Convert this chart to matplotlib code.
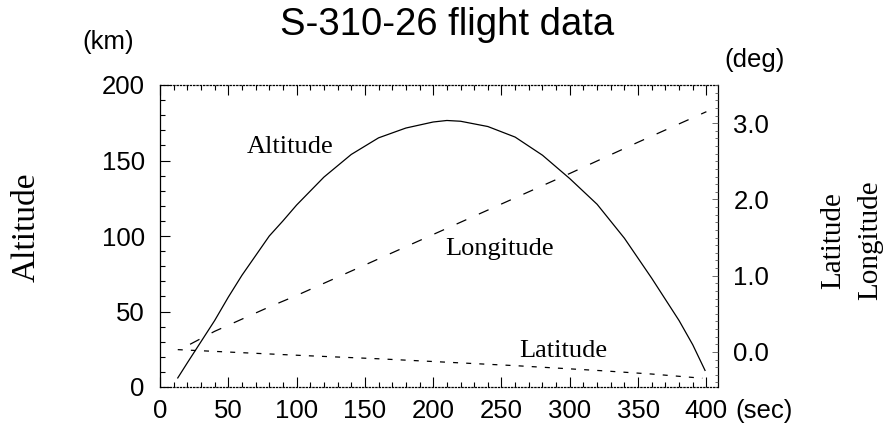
import matplotlib
matplotlib.use("Agg")
from matplotlib import pyplot as plt
from matplotlib.ticker import MultipleLocator

# flight time (sec) and altitude (km)
time_alt = [13, 20, 30, 40, 50, 60, 70, 80, 90, 100, 120, 140, 160, 180, 200,
            210, 220, 240, 260, 280, 300, 320, 340, 360, 380, 390, 399]
altitude = [6, 16, 30, 44, 59.5, 74, 87, 100, 110, 120.5, 139, 154, 165, 171.5, 175.5,
            176.5, 176, 172.5, 165.5, 153.5, 138, 121, 98.5, 72, 44, 28, 11]

# longitude / latitude (deg)
time_lon = [22, 40, 60, 80, 100, 150, 200, 250, 300, 350, 400]
longitude = [0.10, 0.27, 0.43, 0.59, 0.74, 1.14, 1.54, 1.94, 2.34, 2.75, 3.15]

time_lat = [13, 60, 108, 160, 210, 260, 322, 360, 397]
latitude = [0.03, -0.01, -0.05, -0.09, -0.135, -0.18, -0.245, -0.29, -0.345]

sans = "Liberation Sans"
serif = "Liberation Serif"

fig = plt.figure(figsize=(8.96, 4.29), dpi=100)
ax = fig.add_axes([160 / 896, 1 - 387 / 429, 558 / 896, 302 / 429])

ax.plot(time_alt, altitude, color="black", lw=0.9)
ax.set_xlim(0, 408.5)
ax.set_ylim(0, 200)
ax.set_xticks(range(0, 401, 50))
ax.set_yticks(range(0, 201, 50))
ax.xaxis.set_minor_locator(MultipleLocator(10))
ax.yaxis.set_minor_locator(MultipleLocator(10))
ax.tick_params(which="both", direction="in", top=True, right=True, width=0.8)
ax.tick_params(which="major", length=7)
ax.tick_params(which="minor", length=3.5)
ax.tick_params(axis="x", pad=9)
ax.tick_params(axis="y", pad=11)
for lab in ax.get_xticklabels() + ax.get_yticklabels():
    lab.set_family(sans)
    lab.set_fontsize(18.5)
for side in ["top", "bottom"]:
    ax.spines[side].set_linestyle(":")
    ax.spines[side].set_linewidth(0.9)
for side in ["left", "right"]:
    ax.spines[side].set_linewidth(0.9)

ax2 = ax.twinx()
ax2.plot(time_lon, longitude, color="black", lw=0.9, dashes=(8.5, 11))
ax2.plot(time_lat, latitude, color="black", lw=0.9, dashes=(4, 6.5))
ax2.set_ylim(-0.46, 3.5)
ax2.set_yticks([0, 1, 2, 3])
ax2.set_yticklabels(["0.0", "1.0", "2.0", "3.0"], family=sans, fontsize=18.5)
ax2.yaxis.set_minor_locator(MultipleLocator(0.1))
ax2.tick_params(which="both", direction="in", width=0.6, color="#555555")
ax2.tick_params(which="major", length=4, pad=11)
ax2.tick_params(which="minor", length=2)
for side in ax2.spines:
    ax2.spines[side].set_visible(False)

# labels inside the plot
fig.text(290 / 896, 1 - 147 / 429, "Altitude", fontsize=19, family=serif, ha="center", va="center")
fig.text(500 / 896, 1 - 249 / 429, "Longitude", fontsize=19, family=serif, ha="center", va="center")
fig.text(563 / 896, 1 - 351 / 429, "Latitude", fontsize=19, family=serif, ha="center", va="center")

# units, title and axis names
fig.text(447 / 896, 1 - 25 / 429, "S-310-26 flight data", fontsize=27.5, family=sans,
         ha="center", va="center")
fig.text(108 / 896, 1 - 42 / 429, "(km)", fontsize=18.5, family=sans, ha="center", va="center")
fig.text(755 / 896, 1 - 60 / 429, "(deg)", fontsize=18.5, family=sans, ha="center", va="center")
fig.text(764 / 896, 1 - 411 / 429, "(sec)", fontsize=18.5, family=sans, ha="center", va="center")
fig.text(26 / 896, 1 - 227 / 429, "Altitude", fontsize=24, family=serif, rotation=90,
         ha="center", va="center")
fig.text(833 / 896, 1 - 241 / 429, "Latitude", fontsize=21, family=serif, rotation=90,
         ha="center", va="center")
fig.text(870 / 896, 1 - 240 / 429, "Longitude", fontsize=21, family=serif, rotation=90,
         ha="center", va="center")

fig.savefig("out.png", dpi=100)
